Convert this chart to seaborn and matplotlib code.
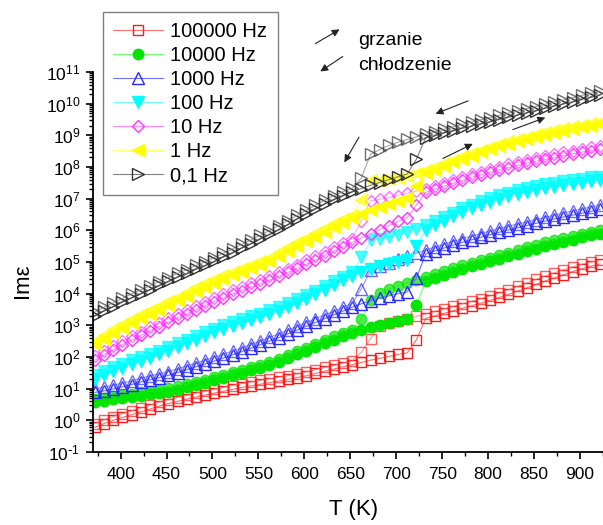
import numpy as np
import seaborn as sns
import matplotlib
matplotlib.use('Agg')
import matplotlib.pyplot as plt
from matplotlib.ticker import LogLocator, NullFormatter, MultipleLocator, FuncFormatter

# temperature grid of the measurement (K), one point every 10 K
temp = np.arange(372, 923, 10)

# log10(Im eps), heating and cooling runs
red_heat = [-0.22, -0.10, 0.00, 0.09, 0.18, 0.27, 0.36, 0.45, 0.53, 0.60, 0.67, 0.74, 0.80, 0.86,
            0.92, 0.98, 1.04, 1.09, 1.14, 1.19, 1.24, 1.29, 1.35, 1.41, 1.48, 1.55, 1.62, 1.69,
            1.76, 1.83, 1.90, 1.96, 2.02, 2.08, 2.13, 2.55, 3.22, 3.30, 3.38, 3.46, 3.54, 3.62,
            3.70, 3.79, 3.88, 3.98, 4.08, 4.18, 4.29, 4.40, 4.50, 4.60, 4.70, 4.79, 4.87, 4.94]
red_cool = [-0.10, 0.02, 0.12, 0.21, 0.30, 0.39, 0.48, 0.57, 0.65, 0.72, 0.79, 0.86, 0.92, 0.98,
            1.04, 1.10, 1.16, 1.21, 1.26, 1.31, 1.36, 1.41, 1.47, 1.53, 1.60, 1.67, 1.74, 1.81,
            1.88, 2.15, 2.58, 2.97, 3.07, 3.14, 3.21, 3.28, 3.36, 3.44, 3.52, 3.60, 3.68, 3.76,
            3.84, 3.93, 4.02, 4.12, 4.23, 4.34, 4.45, 4.56, 4.66, 4.76, 4.85, 4.93, 5.00, 5.06]

green_heat = [0.58, 0.62, 0.66, 0.70, 0.74, 0.78, 0.82, 0.86, 0.91, 0.97, 1.04, 1.11, 1.18, 1.26,
              1.34, 1.42, 1.50, 1.58, 1.66, 1.75, 1.85, 1.96, 2.08, 2.20, 2.32, 2.44, 2.55, 2.66,
              2.76, 2.86, 2.94, 3.01, 3.08, 3.14, 3.19, 3.65, 4.40, 4.50, 4.59, 4.68, 4.77, 4.86,
              4.94, 5.02, 5.10, 5.18, 5.26, 5.34, 5.42, 5.50, 5.57, 5.64, 5.71, 5.78, 5.84, 5.90]
green_cool = [0.68, 0.72, 0.76, 0.80, 0.84, 0.88, 0.92, 0.96, 1.01, 1.07, 1.14, 1.21, 1.28, 1.36,
              1.44, 1.52, 1.60, 1.68, 1.76, 1.85, 1.95, 2.06, 2.18, 2.30, 2.42, 2.54, 2.65, 2.76,
              2.86, 3.20, 3.80, 4.02, 4.15, 4.25, 4.35, 4.44, 4.53, 4.62, 4.71, 4.80, 4.89, 4.98,
              5.06, 5.14, 5.22, 5.30, 5.38, 5.46, 5.54, 5.62, 5.69, 5.76, 5.83, 5.90, 5.96, 6.02]

blue_heat = [0.88, 0.93, 0.99, 1.06, 1.13, 1.21, 1.28, 1.35, 1.42, 1.51, 1.60, 1.69, 1.78, 1.87,
             1.97, 2.07, 2.17, 2.28, 2.39, 2.50, 2.61, 2.73, 2.85, 2.97, 3.09, 3.21, 3.33, 3.45,
             3.57, 3.68, 3.78, 3.86, 3.93, 4.00, 4.06, 4.50, 5.25, 5.35, 5.44, 5.53, 5.62, 5.70,
             5.78, 5.86, 5.94, 6.01, 6.08, 6.15, 6.22, 6.29, 6.36, 6.42, 6.48, 6.54, 6.60, 6.66]
blue_cool = [1.00, 1.05, 1.11, 1.18, 1.25, 1.33, 1.40, 1.47, 1.54, 1.63, 1.72, 1.81, 1.90, 1.99,
             2.09, 2.19, 2.29, 2.40, 2.51, 2.62, 2.73, 2.85, 2.97, 3.09, 3.21, 3.33, 3.45, 3.57,
             3.69, 4.15, 4.75, 4.86, 4.97, 5.08, 5.18, 5.28, 5.38, 5.47, 5.56, 5.65, 5.74, 5.82,
             5.90, 5.98, 6.06, 6.13, 6.20, 6.27, 6.34, 6.41, 6.48, 6.55, 6.62, 6.68, 6.74, 6.80]

cyan_heat = [1.30, 1.43, 1.55, 1.66, 1.77, 1.88, 1.98, 2.08, 2.19, 2.31, 2.43, 2.55, 2.67, 2.78,
             2.88, 2.98, 3.07, 3.16, 3.25, 3.35, 3.46, 3.58, 3.71, 3.84, 3.98, 4.12, 4.27, 4.42,
             4.56, 4.68, 4.78, 4.86, 4.93, 4.99, 5.05, 5.50, 6.02, 6.17, 6.31, 6.44, 6.57, 6.69,
             6.80, 6.90, 6.99, 7.07, 7.14, 7.21, 7.27, 7.33, 7.38, 7.43, 7.47, 7.51, 7.55, 7.58]
cyan_cool = [1.42, 1.55, 1.67, 1.78, 1.89, 2.00, 2.10, 2.20, 2.31, 2.43, 2.55, 2.67, 2.79, 2.90,
             3.00, 3.10, 3.19, 3.28, 3.37, 3.47, 3.58, 3.70, 3.83, 3.96, 4.10, 4.24, 4.39, 4.54,
             4.68, 5.15, 5.68, 5.73, 5.79, 5.86, 5.95, 6.05, 6.17, 6.30, 6.43, 6.56, 6.69, 6.81,
             6.92, 7.02, 7.11, 7.19, 7.26, 7.33, 7.39, 7.45, 7.50, 7.55, 7.59, 7.63, 7.67, 7.70]

pink_heat = [1.90, 2.07, 2.23, 2.39, 2.54, 2.68, 2.82, 2.96, 3.10, 3.23, 3.36, 3.49, 3.62, 3.75,
             3.87, 3.99, 4.10, 4.21, 4.32, 4.43, 4.55, 4.67, 4.80, 4.93, 5.06, 5.20, 5.34, 5.48,
             5.62, 5.76, 5.89, 6.02, 6.15, 6.28, 6.40, 6.80, 7.20, 7.30, 7.40, 7.49, 7.58, 7.67,
             7.75, 7.83, 7.91, 7.98, 8.05, 8.12, 8.18, 8.24, 8.30, 8.36, 8.42, 8.47, 8.52, 8.57]
pink_cool = [2.02, 2.19, 2.35, 2.51, 2.66, 2.80, 2.94, 3.08, 3.22, 3.35, 3.48, 3.61, 3.74, 3.87,
             3.99, 4.11, 4.22, 4.33, 4.44, 4.55, 4.67, 4.79, 4.92, 5.05, 5.18, 5.32, 5.46, 5.60,
             5.74, 6.30, 6.93, 6.98, 7.04, 7.10, 7.17, 7.24, 7.32, 7.41, 7.50, 7.59, 7.68, 7.77,
             7.85, 7.93, 8.01, 8.08, 8.15, 8.22, 8.28, 8.34, 8.40, 8.46, 8.52, 8.57, 8.62, 8.67]

yellow_heat = [2.40, 2.58, 2.76, 2.93, 3.08, 3.23, 3.37, 3.50, 3.64, 3.79, 3.94, 4.08, 4.22, 4.35,
               4.47, 4.58, 4.69, 4.80, 4.91, 5.02, 5.20, 5.35, 5.50, 5.65, 5.80, 5.95, 6.10, 6.24,
               6.38, 6.51, 6.63, 6.74, 6.84, 6.93, 7.01, 7.40, 7.80, 7.92, 8.04, 8.15, 8.26, 8.36,
               8.46, 8.56, 8.65, 8.73, 8.81, 8.88, 8.95, 9.02, 9.08, 9.14, 9.20, 9.25, 9.30, 9.35]
yellow_cool = [2.52, 2.70, 2.88, 3.05, 3.20, 3.35, 3.49, 3.62, 3.76, 3.91, 4.06, 4.20, 4.34, 4.47,
               4.59, 4.70, 4.81, 4.92, 5.03, 5.14, 5.32, 5.47, 5.62, 5.77, 5.92, 6.07, 6.22, 6.36,
               6.50, 6.95, 7.58, 7.60, 7.62, 7.66, 7.72, 7.80, 7.90, 8.01, 8.12, 8.23, 8.34, 8.44,
               8.54, 8.64, 8.73, 8.81, 8.89, 8.96, 9.03, 9.10, 9.16, 9.22, 9.28, 9.33, 9.38, 9.43]

black_heat = [3.30, 3.45, 3.59, 3.73, 3.87, 4.00, 4.13, 4.26, 4.39, 4.52, 4.64, 4.77, 4.89, 5.02,
              5.16, 5.30, 5.44, 5.58, 5.72, 5.87, 6.03, 6.19, 6.35, 6.51, 6.67, 6.83, 6.98, 7.10,
              7.21, 7.32, 7.42, 7.51, 7.60, 7.69, 7.78, 8.25, 8.92, 9.00, 9.08, 9.15, 9.22, 9.29,
              9.36, 9.43, 9.50, 9.57, 9.64, 9.71, 9.78, 9.85, 9.92, 9.99, 10.06, 10.13, 10.20, 10.27]
black_cool = [3.42, 3.57, 3.71, 3.85, 3.99, 4.12, 4.25, 4.38, 4.51, 4.64, 4.76, 4.89, 5.01, 5.14,
              5.28, 5.42, 5.56, 5.70, 5.84, 5.99, 6.15, 6.31, 6.47, 6.63, 6.79, 6.95, 7.10, 7.22,
              7.33, 7.65, 8.40, 8.55, 8.68, 8.78, 8.87, 8.95, 9.03, 9.11, 9.19, 9.27, 9.35, 9.42,
              9.49, 9.56, 9.63, 9.70, 9.77, 9.84, 9.91, 9.98, 10.05, 10.12, 10.19, 10.26, 10.33, 10.40]

labels = ['100000 Hz', '10000 Hz', '1000 Hz', '100 Hz', '10 Hz', '1 Hz', '0,1 Hz']
heat_runs = [red_heat, green_heat, blue_heat, cyan_heat, pink_heat, yellow_heat, black_heat]
cool_runs = [red_cool, green_cool, blue_cool, cyan_cool, pink_cool, yellow_cool, black_cool]

# styling
markers = ['s', 'o', '^', 'v', 'D', '<', '>']
filled = [False, True, False, True, False, True, False]
mark_colors = ['#ff1a1a', '#00e600', '#2a2aff', '#00ffff', '#ff33ff', '#ffff00', '#333333']
line_colors = ['#ff7070', '#70ff70', '#7070ff', '#70ffff', '#ff88ff', '#ffff70', '#808080']
sizes = [7, 7.5, 8.5, 8.5, 6, 9, 9]

sns.set_style('ticks')
plt.rcParams['font.family'] = ['Liberation Sans', 'DejaVu Sans']
plt.rcParams['mathtext.default'] = 'regular'
plt.rcParams['axes.unicode_minus'] = False
for key in ('text.color', 'axes.labelcolor', 'xtick.color', 'ytick.color'):
    plt.rcParams[key] = 'black'


def pow10(v, pos):
    n = int(round(np.log10(v)))
    exp = str(n).replace('-', r'\text{-}')
    return r'$\mathdefault{10^{%s}}$' % exp


W, H = 603, 525
fig = plt.figure(figsize=(W / 100, H / 100), dpi=100)
ax = fig.add_axes([93 / W, 73 / H, 510 / W, 380 / H])

for i in range(len(labels)):
    for run, vals in (('heat', heat_runs[i]), ('cool', cool_runs[i])):
        sns.lineplot(x=temp, y=10.0 ** np.array(vals), ax=ax, estimator=None, sort=False,
                     color=line_colors[i], linewidth=0.8, marker=markers[i],
                     markersize=sizes[i],
                     markerfacecolor=mark_colors[i] if filled[i] else 'none',
                     markeredgecolor=mark_colors[i], markeredgewidth=1.0,
                     alpha=1.0 if run == 'heat' else 0.7,
                     label=labels[i] if run == 'heat' else '_nolegend_')

ax.set_yscale('log')
ax.set_xlim(370, 925)
ax.set_ylim(1e-1, 1e11)
ax.xaxis.set_major_locator(MultipleLocator(50))
ax.xaxis.set_minor_locator(MultipleLocator(25))
ax.yaxis.set_major_locator(LogLocator(base=10, subs=(1.0,), numticks=20))
ax.yaxis.set_major_formatter(FuncFormatter(pow10))
ax.yaxis.set_minor_locator(LogLocator(base=10, subs=np.arange(2, 10), numticks=200))
ax.yaxis.set_minor_formatter(NullFormatter())
ax.tick_params(which='major', direction='out', length=5, width=1.2, labelsize=12.5, pad=4)
ax.tick_params(which='minor', direction='out', length=3, width=1.0)
ax.tick_params(axis='x', which='major', pad=6)
sns.despine(ax=ax)
for s in ('left', 'bottom'):
    ax.spines[s].set_linewidth(1.3)
    ax.spines[s].set_color('black')

ax.set_xlabel('T (K)', fontsize=16)
ax.set_ylabel('Imε', fontsize=16)
ax.xaxis.set_label_coords(0.51, -0.125)
ax.yaxis.set_label_coords(-0.118, 0.45)

# arrows in the plot: (T start, log start, T end, log end)
arrows = [(781, 10.12, 740, 9.65), (661, 9.02, 642, 8.07),
          (748, 8.23, 786, 8.77), (824, 9.15, 865, 9.59)]
for t0, l0, t1, l1 in arrows:
    ax.annotate('', xy=(t1, 10 ** l1), xytext=(t0, 10 ** l0),
                arrowprops=dict(arrowstyle='-|>', color='#222222', lw=0.8, mutation_scale=11))

# key for the arrows above the plot
ax.annotate('', xy=(342 / W, 1 - 28 / H), xytext=(313 / W, 1 - 45 / H), xycoords='figure fraction',
            textcoords='figure fraction',
            arrowprops=dict(arrowstyle='-|>', color='#222222', lw=0.8, mutation_scale=11))
ax.annotate('', xy=(318 / W, 1 - 73 / H), xytext=(345 / W, 1 - 55 / H), xycoords='figure fraction',
            textcoords='figure fraction',
            arrowprops=dict(arrowstyle='-|>', color='#222222', lw=0.8, mutation_scale=11))
fig.text(358 / W, 1 - 45 / H, 'grzanie', fontsize=14, va='baseline')
fig.text(358 / W, 1 - 70 / H, 'chłodzenie', fontsize=14, va='baseline')

handles, lbls = ax.get_legend_handles_labels()
leg = ax.legend(handles, lbls, loc='upper left', bbox_to_anchor=(103 / W, 1 - 12 / H),
                bbox_transform=fig.transFigure, borderaxespad=0, fontsize=14.5,
                frameon=True, fancybox=False, edgecolor='#808080', framealpha=1,
                handlelength=2.5, handletextpad=0.35, labelspacing=0.25, borderpad=0.5)
leg.get_frame().set_linewidth(1.0)

fig.savefig('out.png', dpi=100)
